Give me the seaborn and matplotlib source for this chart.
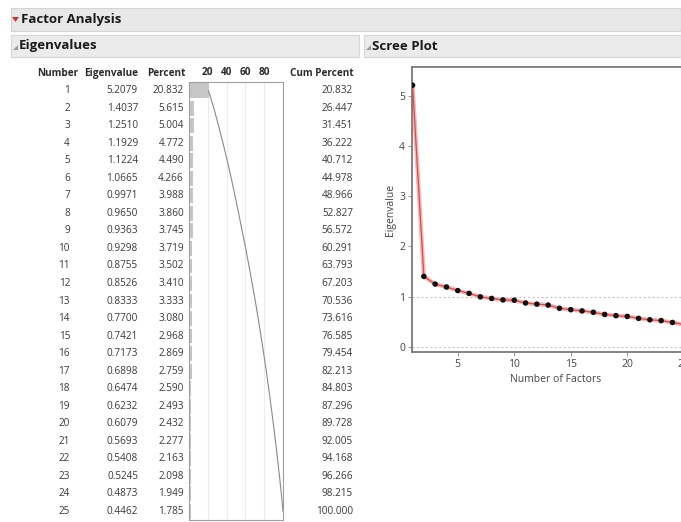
import matplotlib
matplotlib.use("Agg")
import matplotlib.pyplot as plt
import seaborn as sns
import pandas as pd
from matplotlib.patches import Rectangle, Polygon

# ---------------- data ----------------
numbers = list(range(1, 26))
eigenvalues = [5.2079, 1.4037, 1.2510, 1.1929, 1.1224, 1.0665, 0.9971, 0.9650,
               0.9363, 0.9298, 0.8755, 0.8526, 0.8333, 0.7700, 0.7421, 0.7173,
               0.6898, 0.6474, 0.6232, 0.6079, 0.5693, 0.5408, 0.5245, 0.4873,
               0.4462]
percents = [20.832, 5.615, 5.004, 4.772, 4.490, 4.266, 3.988, 3.860, 3.745,
            3.719, 3.502, 3.410, 3.333, 3.080, 2.968, 2.869, 2.759, 2.590,
            2.493, 2.432, 2.277, 2.163, 2.098, 1.949, 1.785]
cum_percents = [20.832, 26.447, 31.451, 36.222, 40.712, 44.978, 48.966, 52.827,
                56.572, 60.291, 63.793, 67.203, 70.536, 73.616, 76.585, 79.454,
                82.213, 84.803, 87.296, 89.728, 92.005, 94.168, 96.266, 98.215,
                100.000]
bar_ticks = [20, 40, 60, 80]
scree_xticks = [5, 10, 15, 20, 25]
scree_yticks = [0, 1, 2, 3, 4, 5]

df = pd.DataFrame({"Number": numbers, "Eigenvalue": eigenvalues,
                   "Percent": percents, "Cum": cum_percents})
df["row"] = range(len(df))

# ---------------- figure ----------------
sns.set_theme(style="white")
plt.rcParams["font.family"] = ["Open Sans", "DejaVu Sans"]
W, H = 681, 522
fig = plt.figure(figsize=(W / 100, H / 100), dpi=100)
fig.patch.set_facecolor("white")


def fx(x):
    return x / W


def fy(y):
    return 1 - y / H


def rect(x0, y0, x1, y1, fc, ec="none", lw=0.8):
    fig.patches.append(Rectangle((fx(x0), fy(y1)), fx(x1) - fx(x0), fy(y0) - fy(y1),
                                 transform=fig.transFigure, facecolor=fc,
                                 edgecolor=ec, lw=lw, zorder=0))


# header bars
rect(11, 8, 681, 31, "#e8e8e8", "#d4d4d4")
rect(11, 35, 359, 57, "#ebebeb", "#d6d6d6")
rect(364, 35, 681, 57, "#ebebeb", "#d6d6d6")
fig.patches.append(Polygon([(fx(12), fy(17)), (fx(19), fy(17)), (fx(15.5), fy(22))],
                           closed=True, transform=fig.transFigure,
                           facecolor="#d03030", edgecolor="none"))
for x0 in (13, 366):
    fig.patches.append(Polygon([(fx(x0), fy(50)), (fx(x0 + 5), fy(50)), (fx(x0 + 5), fy(45))],
                               closed=True, transform=fig.transFigure,
                               facecolor="#9a9a9a", edgecolor="none"))

fig.text(fx(21), fy(19.5), "Factor Analysis", fontsize=9.5, fontweight="bold",
         color="#1a1a1a", va="center", ha="left")
fig.text(fx(19), fy(46), "Eigenvalues", fontsize=9.5, fontweight="bold",
         color="#1a1a1a", va="center", ha="left")
fig.text(fx(372), fy(46), "Scree Plot", fontsize=9.5, fontweight="bold",
         color="#1a1a1a", va="center", ha="left")

# ---------------- table text ----------------
hy = 73.5
hdr_kw = dict(fontsize=7.2, fontweight="bold", color="#2a2a2a", va="center", ha="right")
fig.text(fx(78), fy(hy), "Number", **hdr_kw)
fig.text(fx(138), fy(hy), "Eigenvalue", **hdr_kw)
fig.text(fx(185), fy(hy), "Percent", **hdr_kw)
fig.text(fx(354), fy(hy), "Cum Percent", **hdr_kw)

top, bottom = 82, 520
rh = (bottom - top) / len(df)
cell_kw = dict(fontsize=7.2, color="#3a3a3a", va="center", ha="right")
for i, r in df.iterrows():
    y = fy(top + rh * (i + 0.5))
    fig.text(fx(70), y, f"{int(r.Number)}", **cell_kw)
    fig.text(fx(138), y, f"{r.Eigenvalue:.4f}", **cell_kw)
    fig.text(fx(184), y, f"{r.Percent:.3f}", **cell_kw)
    fig.text(fx(353), y, f"{r.Cum:.3f}", **cell_kw)

# ---------------- bar column ----------------
axb = fig.add_axes([fx(189), fy(bottom), fx(283) - fx(189), fy(top) - fy(bottom)])
for t in bar_ticks:
    axb.axvline(t, color="#ececec", lw=0.8, zorder=0)
sns.barplot(data=df, x="Percent", y="row", orient="h", color="#c6c6c6",
            width=0.85, saturation=1, edgecolor="none", ax=axb, zorder=2)
sns.lineplot(data=df, x="Cum", y="row", sort=False, color="#8a8a8a", lw=0.8,
             ax=axb, zorder=3)
axb.set_xlim(0, 100)
axb.set_ylim(len(df) - 0.5, -0.5)
axb.set_yticks([])
axb.set_xticks(bar_ticks)
axb.xaxis.tick_top()
axb.tick_params(axis="x", length=0, pad=3, labelsize=7.2, labelcolor="#2a2a2a")
for lab in axb.get_xticklabels():
    lab.set_fontweight("bold")
axb.set_xlabel("")
axb.set_ylabel("")
for s in axb.spines.values():
    s.set_color("#a0a0a0")
    s.set_linewidth(0.8)

# ---------------- scree plot ----------------
left_px, right_px = 412, 700
top_px, bot_px = 67, 352
axs = fig.add_axes([fx(left_px), fy(bot_px), fx(right_px) - fx(left_px), fy(top_px) - fy(bot_px)])
axs.axhline(1, color="#c4c4c4", lw=0.8, ls=(0, (2, 2)), zorder=1)
axs.axhline(0, color="#c4c4c4", lw=0.8, ls=(0, (2, 2)), zorder=1)
sns.lineplot(data=df, x="Number", y="Eigenvalue", color="#f4b8b8", lw=3.0, ax=axs, zorder=2)
sns.lineplot(data=df, x="Number", y="Eigenvalue", color="#e04848", lw=0.9, ax=axs, zorder=3)
sns.scatterplot(data=df, x="Number", y="Eigenvalue", color="#111111", s=16,
                edgecolor="none", ax=axs, zorder=4)
xunit = 11.3
x0 = 0.95
axs.set_xlim(x0, x0 + (right_px - left_px) / xunit)
axs.set_ylim(-0.1, 5.57)
axs.set_xticks(scree_xticks)
axs.set_yticks(scree_yticks)
axs.tick_params(axis="both", length=3, width=0.6, color="#888888", labelsize=7.5,
                labelcolor="#444444", pad=2, direction="out")
axs.tick_params(axis="x", bottom=True)
axs.tick_params(axis="y", left=True)
axs.set_xlabel("Number of Factors", fontsize=7.5, color="#444444", labelpad=3)
axs.set_ylabel("Eigenvalue", fontsize=7.5, color="#444444", labelpad=2)
for name, s in axs.spines.items():
    s.set_color("#7a7a7a")
    s.set_linewidth(1.3)
axs.spines["right"].set_visible(False)

fig.savefig("out.png", dpi=100, facecolor="white")
